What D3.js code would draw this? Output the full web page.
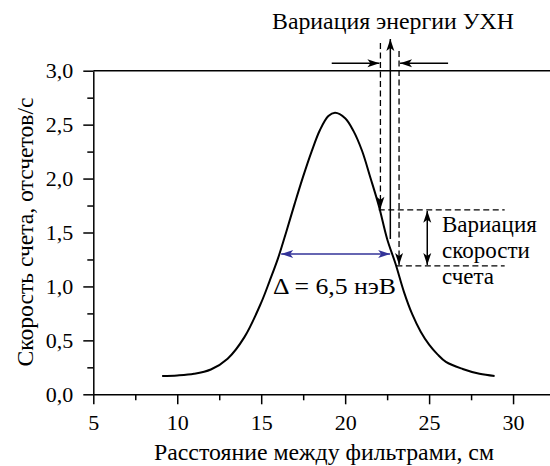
<!DOCTYPE html>
<html>
<head>
<meta charset="utf-8">
<script src="https://cdn.jsdelivr.net/npm/d3@7"></script>
<style>
  html, body { margin: 0; padding: 0; background: #fff; }
  svg { display: block; }
</style>
</head>
<body>
<svg id="chart" width="550" height="466"></svg>
<script>
// ---- data ----
const distance = [9.1, 10, 11, 12, 13, 14, 15, 15.5, 16, 16.5, 17, 17.5, 18, 18.5, 19, 19.4,
                  20, 20.5, 21, 21.5, 22, 22.5, 23, 23.5, 24, 24.5, 25, 25.5, 26, 27, 28, 28.9];
const countRate = [0.17, 0.175, 0.19, 0.23, 0.33, 0.53, 0.85, 1.05, 1.26, 1.51, 1.77, 2.02, 2.25, 2.45, 2.58, 2.61,
                   2.56, 2.44, 2.26, 2.01, 1.75, 1.44, 1.21, 0.95, 0.74, 0.58, 0.46, 0.37, 0.30, 0.235, 0.19, 0.17];
const xTickValues = [5, 10, 15, 20, 25, 30];
const xMinorTicks = [7.5, 12.5, 17.5, 22.5, 27.5];
const yTickValues = [0, 0.5, 1.0, 1.5, 2.0, 2.5, 3.0];
const yMinorTicks = [0.25, 0.75, 1.25, 1.75, 2.25, 2.75];
const xTitle = "Расстояние между фильтрами, см";
const yTitle = "Скорость счета, отсчетов/с";
const topLabel = "Вариация энергии УХН";
const rateLabel = ["Вариация", "скорости", "счета"];
const widthLabel = "Δ = 6,5 нэВ";
// annotation anchors in data units
const energyLow = 22.1, energyMid = 22.69, energyHigh = 23.21;
const rateHigh = 1.71, rateLow = 1.19, rateMid = 1.44;
const fwhmLevel = 1.30, fwhmLeft = 16.13, fwhmRight = 22.74;

// ---- layout ----
const FONT = '"Liberation Serif"';
const FS = 23, FS_TICK = 22;
const svg = d3.select("#chart");
const x = d3.scaleLinear().domain([5, 32.2]).range([93.3, 550]);
const y = d3.scaleLinear().domain([0, 3]).range([394.3, 70.7]);
const fmt = d => d3.format(".1f")(d).replace(".", ",");

// markers
const defs = svg.append("defs");
function marker(id, color) {
  defs.append("marker")
    .attr("id", id).attr("markerUnits", "userSpaceOnUse")
    .attr("viewBox", "-13 -5 14 10").attr("refX", 0).attr("refY", 0)
    .attr("markerWidth", 14).attr("markerHeight", 10).attr("orient", "auto-start-reverse")
    .append("path").attr("d", "M0,0 L-12,-4 L-9,0 L-12,4 Z").attr("fill", color);
}
marker("ab", "#000");
marker("abl", "#333399");

// axes
const gx = svg.append("g").attr("transform", `translate(0,${y(0)})`)
  .call(d3.axisBottom(x).tickValues(xTickValues).tickSize(10).tickSizeOuter(0).tickFormat(d3.format("d")));
svg.append("g").attr("transform", `translate(0,${y(0)})`)
  .call(d3.axisBottom(x).tickValues(xMinorTicks).tickSize(6).tickSizeOuter(0).tickFormat(""))
  .call(g => g.select(".domain").remove());
const gy = svg.append("g").attr("transform", `translate(${x(5)},0)`)
  .call(d3.axisLeft(y).tickValues(yTickValues).tickSize(10).tickSizeOuter(0).tickFormat(fmt));
svg.append("g").attr("transform", `translate(${x(5)},0)`)
  .call(d3.axisLeft(y).tickValues(yMinorTicks).tickSize(6).tickSizeOuter(0).tickFormat(""))
  .call(g => g.select(".domain").remove());
svg.selectAll(".domain, .tick line").attr("stroke", "#000").attr("stroke-width", 1.5);
gx.selectAll(".tick text").attr("dy", null).attr("y", 35.5);
gy.selectAll(".tick text").attr("x", -20).attr("dy", "0.33em");

// top frame line
svg.append("line").attr("x1", x(5)).attr("x2", 550).attr("y1", y(3)).attr("y2", y(3))
  .attr("stroke", "#000").attr("stroke-width", 1.5);

// curve
const pts = distance.map((d, i) => [d, countRate[i]]);
svg.append("path").datum(pts)
  .attr("d", d3.line().x(d => x(d[0])).y(d => y(d[1])).curve(d3.curveCatmullRom.alpha(0.5)))
  .attr("fill", "none").attr("stroke", "#000").attr("stroke-width", 2);

// annotations
const dash = "6,3.5";
function ln(x1, y1, x2, y2, opts) {
  const l = svg.append("line").attr("x1", x1).attr("y1", y1).attr("x2", x2).attr("y2", y2)
    .attr("stroke", opts.color || "#000").attr("stroke-width", opts.w || 1.5);
  if (opts.dash) l.attr("stroke-dasharray", opts.dash);
  if (opts.end) l.attr("marker-end", `url(#${opts.end})`);
  if (opts.start) l.attr("marker-start", `url(#${opts.start})`);
  return l;
}
ln(x(energyLow), 43, x(energyLow), y(rateHigh) - 1, { dash, end: "ab", w: 1.3 });
ln(x(energyHigh), 51, x(energyHigh), y(rateLow) - 1, { dash, end: "ab", w: 1.3 });
ln(x(energyMid), y(rateMid), x(energyMid), 39, { end: "ab" });
ln(x(19.2), 63.3, x(energyLow) - 1, 63.3, { end: "ab" });
ln(x(26.13), 63.3, x(energyHigh) + 1, 63.3, { end: "ab" });
ln(x(22.0), y(rateHigh), x(29.5), y(rateHigh), { dash, w: 1.3 });
ln(x(23.05), y(rateLow), x(29.5), y(rateLow), { dash, w: 1.3 });
ln(x(24.89), y(rateHigh) + 1, x(24.89), y(rateLow) - 1, { start: "ab", end: "ab" });
ln(x(fwhmLeft) + 1, y(fwhmLevel), x(fwhmRight) - 1, y(fwhmLevel), { start: "abl", end: "abl", color: "#333399" });

// texts
svg.selectAll("g").attr("font-family", null).attr("font-size", null);
svg.selectAll(".tick text").style("font-family", FONT).style("font-size", FS_TICK + "px").attr("fill", "#000");

function label(t) {
  return svg.append("text").text(t).style("font-family", FONT).style("font-size", FS + "px").attr("fill", "#000");
}
label(topLabel).attr("x", 393).attr("y", 29).attr("text-anchor", "middle")
  .attr("textLength", 242).attr("lengthAdjust", "spacingAndGlyphs");
rateLabel.forEach((t, i) => label(t).attr("x", 442).attr("y", 232 + i * 26));
label(widthLabel).attr("x", 273).attr("y", 294).attr("textLength", 123).attr("lengthAdjust", "spacingAndGlyphs");
label(xTitle).attr("x", 324).attr("y", 460).attr("text-anchor", "middle")
  .attr("textLength", 340).attr("lengthAdjust", "spacingAndGlyphs");
label(yTitle).attr("transform", `translate(33,232) rotate(-90)`).attr("text-anchor", "middle")
  .attr("textLength", 269).attr("lengthAdjust", "spacingAndGlyphs");
</script>
</body>
</html>
